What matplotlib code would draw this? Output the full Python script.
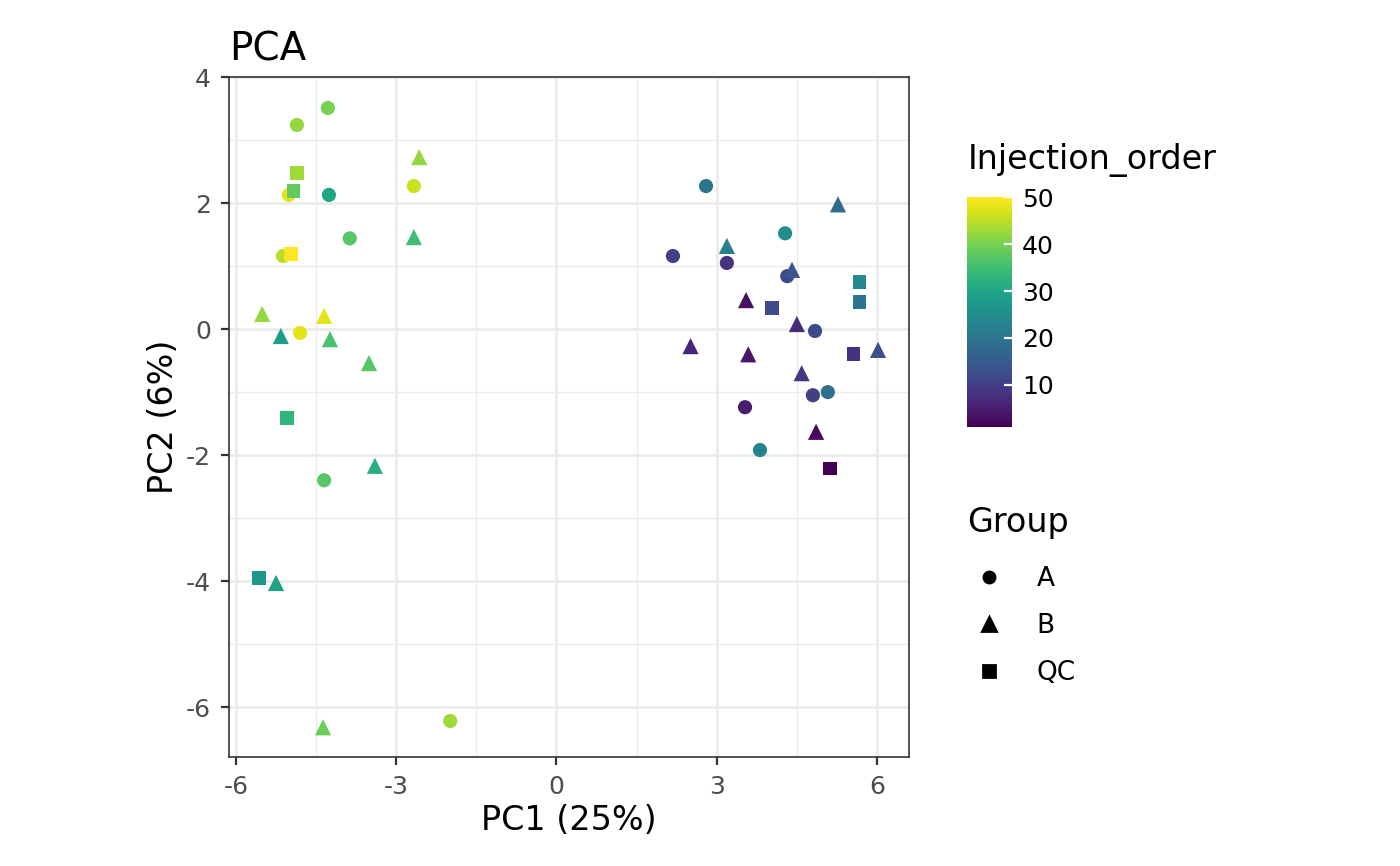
import numpy as np
import matplotlib
matplotlib.use("Agg")
import matplotlib.pyplot as plt
from matplotlib.ticker import FixedLocator, FuncFormatter
from matplotlib.lines import Line2D

# group A (circles)
a_x = [-4.28, -4.86, -4.26, -5.01, -2.67, -3.87, -5.12, -4.80, -4.35, -1.99,
       2.80, 4.28, 2.18, 3.19, 4.32, 4.84, 3.53, 4.80, 5.08, 3.81]
a_y = [3.51, 3.24, 2.13, 2.13, 2.27, 1.44, 1.16, -0.06, -2.40, -6.22,
       2.27, 1.52, 1.16, 1.05, 0.84, -0.03, -1.24, -1.05, -1.00, -1.92]
a_inj = [40, 42, 30, 48, 46, 37, 45, 48, 37, 43,
         20, 25, 10, 8, 12, 12, 5, 10, 19, 23]
# group B (triangles)
b_x = [-2.57, -2.67, -5.51, -4.35, -5.16, -4.24, -3.51, -3.40, -5.25, -4.37,
       5.27, 3.19, 4.41, 3.55, 4.50, 2.51, 3.59, 6.02, 4.59, 4.86]
b_y = [2.73, 1.46, 0.24, 0.21, -0.11, -0.16, -0.54, -2.17, -4.03, -6.32,
       1.98, 1.32, 0.94, 0.46, 0.08, -0.27, -0.40, -0.33, -0.70, -1.63]
b_inj = [42, 35, 42, 48, 28, 36, 37, 32, 29, 39,
         18, 22, 14, 3, 7, 6, 4, 13, 9, 2]
# QC (squares)
qc_x = [-4.86, -4.92, -4.97, -5.05, -5.57, 5.67, 5.67, 4.03, 5.56, 5.12]
qc_y = [2.48, 2.19, 1.19, -1.41, -3.95, 0.75, 0.43, 0.33, -0.40, -2.21]
qc_inj = [43, 38, 50, 33, 27, 24, 20, 12, 8, 1]

fig = plt.figure(figsize=(7, 4.33), dpi=200)
ax = fig.add_axes([0.1636, 0.126, 0.4857, 0.785])
kw = dict(cmap="viridis", vmin=1, vmax=50, edgecolors="none", zorder=3)
sc = ax.scatter(a_x, a_y, c=a_inj, marker="o", s=26, **kw)
ax.scatter(b_x, b_y, c=b_inj, marker="^", s=34, **kw)
ax.scatter(qc_x, qc_y, c=qc_inj, marker="s", s=24, **kw)

ax.set_xlim(-6.13, 6.6)
ax.set_ylim(-6.79, 4.0)
ax.xaxis.set_major_locator(FixedLocator([-6, -3, 0, 3, 6]))
ax.xaxis.set_minor_locator(FixedLocator([-4.5, -1.5, 1.5, 4.5]))
ax.yaxis.set_major_locator(FixedLocator([-6, -4, -2, 0, 2, 4]))
ax.yaxis.set_minor_locator(FixedLocator([-5, -3, -1, 1, 3]))
fmt = FuncFormatter(lambda v, p: f"{v:g}".replace("\u2212", "-"))
ax.xaxis.set_major_formatter(fmt)
ax.yaxis.set_major_formatter(fmt)
ax.grid(True, which="major", color="#ebebeb", linewidth=1.0, zorder=0)
ax.grid(True, which="minor", color="#ebebeb", linewidth=0.5, zorder=0)
ax.set_axisbelow(True)
ax.tick_params(which="major", length=3, color="#333333", labelsize=9, labelcolor="#4d4d4d")
ax.tick_params(which="minor", length=0)
for s in ax.spines.values():
    s.set_color("#333333")
    s.set_linewidth(0.6)
ax.set_xlabel("PC1 (25%)", fontsize=12, labelpad=2)
ax.set_ylabel("PC2 (6%)", fontsize=12, labelpad=2)
ax.set_title("PCA", fontsize=14, loc="left", pad=6)

cax = fig.add_axes([0.691, 0.507, 0.032, 0.265])
cb = fig.colorbar(sc, cax=cax, ticks=[10, 20, 30, 40, 50])
cb.outline.set_visible(False)
cb.ax.tick_params(length=3, color="white", labelsize=9, direction="in")
fig.text(0.691, 0.815, "Injection_order", fontsize=12, va="center")

fig.text(0.691, 0.397, "Group", fontsize=12, va="center")
handles = [Line2D([], [], marker=m, color="black", linestyle="none", markersize=ms)
           for m, ms in [("o", 4), ("^", 5), ("s", 4)]]
fig.legend(handles, ["A", "B", "QC"], loc="upper left", bbox_to_anchor=(0.680, 0.374),
           frameon=False, fontsize=9.5, handlelength=1.0, handletextpad=1.3,
           labelspacing=0.8)

fig.savefig("out.png", dpi=200)
